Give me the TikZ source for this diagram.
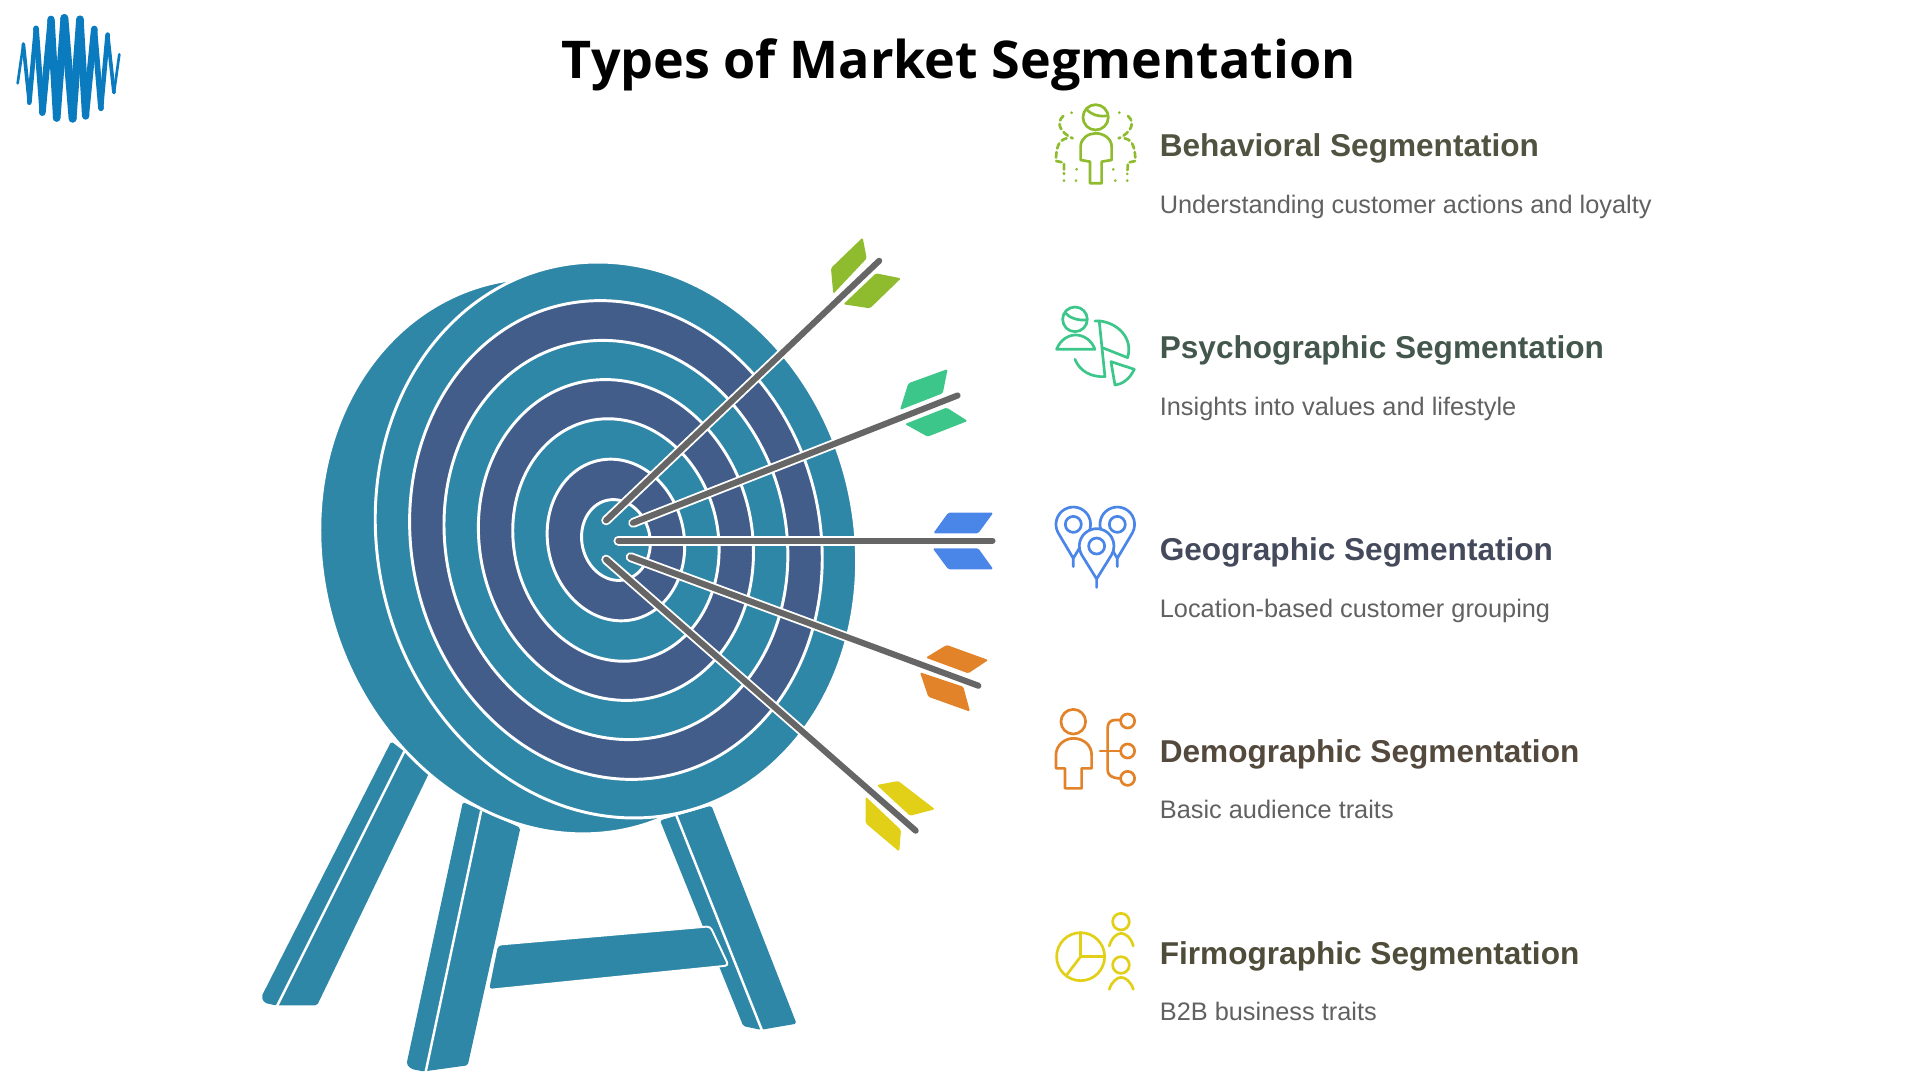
\documentclass[tikz,border=0pt]{standalone}
\usepackage{fontspec}
\setmainfont{Liberation Sans}
\newfontfamily\titlefont{Open Sans}
\definecolor{teal}{HTML}{2F87A8}
\definecolor{navy}{HTML}{425D8A}
\definecolor{shaft}{HTML}{666666}
\definecolor{lime}{HTML}{8FBC2E}
\definecolor{mint}{HTML}{3CC68A}
\definecolor{skyb}{HTML}{4A86E8}
\definecolor{oran}{HTML}{E2832A}
\definecolor{yell}{HTML}{E2CF17}
\definecolor{logob}{HTML}{0B7BBF}
\definecolor{hA}{HTML}{4F5340}
\definecolor{hB}{HTML}{43574D}
\definecolor{hC}{HTML}{444A5C}
\definecolor{hD}{HTML}{54493D}
\definecolor{hE}{HTML}{4F4D3A}
\tikzset{
  ringA/.style={fill=teal,draw=white,line width=2.4pt},
  ringB/.style={fill=navy,draw=white,line width=2.4pt},
  leg/.style={fill=teal,draw=none,rounded corners=1.5pt},
  legline/.style={draw=white,line width=2pt},
  fletch/.style={fill=#1,draw=none,rounded corners=1.2pt},
  halo/.style={draw=white,line width=8pt,line cap=round},
  shaftline/.style={draw=shaft,line width=5pt,line cap=round},
  ic/.style={draw=#1,line width=2.2pt,line join=round,line cap=round,fill=none},
  head/.style={anchor=base west,inner sep=0pt,font=\bfseries\fontsize{25.8}{30}\selectfont},
  sub/.style={anchor=base west,inner sep=0pt,text=black!62,font=\fontsize{20.7}{25}\selectfont},
  iconbox/.style={shift={(849.3,#1)},x=0.2722pt,y=-0.2722pt},
  wave/.style={draw=logob,line cap=round,line join=round}
}
\begin{document}
\begin{tikzpicture}[x=1pt,y=-1pt]
\useasboundingbox (0,0) rectangle (1568,882);
% logo
\begin{scope}[x=0.2722pt,y=-0.2722pt]
\foreach \ax/\ay/\bx/\by/\w in {53/250/70/132/8,70/132/88/308/11,88/308/108/85/14,108/85/127/338/17,127/338/153/58/20,153/58/170/354/22,170/354/193/54/23,193/54/218/356/24,218/356/240/58/23,240/58/257/348/22,257/348/283/87/20,283/87/303/325/17,303/325/323/104/14,323/104/342/278/11,342/278/358/163/8}
  \draw[wave,line width=\w*0.2722pt] (\ax,\ay) -- (\bx,\by);
\end{scope}
% title
\node[anchor=base,inner sep=0pt,font=\titlefont\bfseries\fontsize{42.5}{48}\selectfont] (title) at (783,64.5) {Types of Market Segmentation};
% legs
\path[leg] (319.5,605.5) -- (213.5,814) -- (216,819) -- (225,821) -- (259,821) -- (351,630) -- cycle;
\draw[legline] (331,612) -- (226,822);
\path[leg] (378,655) -- (332,869) -- (336,873) -- (346,875) -- (382,870) -- (425,676) -- cycle;
\draw[legline] (393,662) -- (347.5,876);
\path[leg] (539,670) -- (607,838) -- (621.5,841) -- (650.5,836) -- (581,658) -- cycle;
\draw[legline] (552,665) -- (622.5,842);
\path[leg,draw=white,line width=1.6pt,rounded corners=3pt] (406,771.5) -- (580,756.5) -- (595,788.5) -- (398.5,808.5) -- cycle;
% target
\begin{scope}[shift={(458,454)},xslant=-0.08]
\draw[ringA] (0,0) ellipse [x radius=196,y radius=227];
\end{scope}
\begin{scope}[shift={(503,441)},xslant=-0.065]
\draw[ringA] (0,0) ellipse [x radius=196,y radius=227];
\draw[ringB] (0,0) ellipse [x radius=168,y radius=195.5];
\draw[ringA] (0,0) ellipse [x radius=140,y radius=163];
\draw[ringB] (0,0) ellipse [x radius=112,y radius=131];
\draw[ringA] (0,0) ellipse [x radius=84,y radius=99];
\draw[ringB] (0,0) ellipse [x radius=56,y radius=66];
\draw[ringA] (0,0) ellipse [x radius=28,y radius=33];
\end{scope}
% arrows: named ends
\coordinate (t1) at (495,425); \coordinate (e1) at (718,213);
\coordinate (t2) at (517,427); \coordinate (e2) at (782,323);
\coordinate (t3) at (505,441.5); \coordinate (e3) at (810.5,441.5);
\coordinate (t4) at (515,455); \coordinate (e4) at (799,560);
\coordinate (t5) at (495,457); \coordinate (e5) at (747.8,678.4);
\path[fletch=lime] (704.5,194) -- (707.8,211) -- (680.5,240) -- (678.6,219) -- cycle;
\path[fletch=lime] (735.8,227.3) -- (710.5,251.8) -- (688.7,248.5) -- (715.4,223.2) -- cycle;
\path[fletch=mint] (773.9,301.4) -- (769.9,321.2) -- (735,334.8) -- (741.8,313) -- cycle;
\path[fletch=mint] (790.3,343.8) -- (757.6,356.6) -- (739,346.3) -- (773.1,332.9) -- cycle;
\path[fletch=skyb] (811.2,418.7) -- (798.9,435.5) -- (762.2,435.5) -- (774.4,418.7) -- cycle;
\path[fletch=skyb] (811.2,464.9) -- (798.9,447.8) -- (761.7,447.8) -- (774.4,464.9) -- cycle;
\path[fletch=oran] (773.1,526.7) -- (807.1,539) -- (790.8,549.9) -- (756,537.1) -- cycle;
\path[fletch=oran] (751.3,549) -- (786.7,560.8) -- (792.2,581.2) -- (758.1,569) -- cycle;
\path[fletch=yell] (733.6,637.8) -- (763.6,660.9) -- (743.2,666.2) -- (716,641.1) -- cycle;
\path[fletch=yell] (707,650.6) -- (735.8,677.8) -- (734.4,695.5) -- (707,672.4) -- cycle;
\foreach \n in {1,...,5}{
  \draw[halo] (t\n) -- (e\n);
  \draw[shaftline] (t\n) -- (e\n);
}
% behavioral icon
\begin{scope}[iconbox=73.5]
\draw[ic=lime] (167,82) circle [radius=38];
\draw[ic=lime] (140,58) .. controls (155,75) and (175,80) .. (198,78);
\draw[ic=lime] (150,280) -- (150,215) -- (122,210) -- (122,170) .. controls (122,145) and (145,130) .. (167,130) .. controls (190,130) and (215,145) .. (215,170) -- (215,210) -- (185,215) -- (185,280) -- cycle;
\draw[ic=lime,dash pattern=on 4.5pt off 3pt] (70,78) .. controls (50,95) and (55,125) .. (98,145);
\draw[ic=lime,dash pattern=on 4.5pt off 3pt] (80,145) .. controls (55,150) and (48,175) .. (48,213) -- (72,218) -- (72,252);
\draw[ic=lime,dash pattern=on 4.5pt off 3pt] (264,78) .. controls (284,95) and (279,125) .. (236,145);
\draw[ic=lime,dash pattern=on 4.5pt off 3pt] (254,145) .. controls (279,150) and (286,175) .. (286,213) -- (264,218) -- (262,252);
\foreach \px/\py in {95/68,238/68,110/238,220/238,72/272,108/272,226/272,262/272}
  \fill[lime] (\px,\py) circle [radius=4.5];
% psychographic icon
\draw[ic=mint] (105,688) circle [radius=37];
\draw[ic=mint] (75,668) .. controls (90,685) and (115,692) .. (140,690);
\draw[ic=mint] (50,778) .. controls (60,750) and (85,735) .. (107,735) .. controls (130,735) and (155,750) .. (165,778) -- cycle;
\draw[ic=mint] (165,693) -- (180,693) .. controls (235,700) and (280,745) .. (263,803) -- (187,773);
\draw[ic=mint] (178,695) -- (195,860) .. controls (155,862) and (120,845) .. (105,808);
\draw[ic=mint] (213,815) -- (283,838) .. controls (270,865) and (250,882) .. (225,885) -- cycle;
\end{scope}
% geographic icon
\begin{scope}[iconbox=400.2]
\foreach \cx/\cy/\tip in {100/103/230,232/103/230,170/168/292}{
  \draw[ic=skyb,fill=white] (\cx-45,\cy+26) arc [start angle=150,end angle=390,radius=52] -- (\cx+3,\tip-30) -- (\cx,\tip-25) -- (\cx,\tip) -- (\cx,\tip-25) -- (\cx-3,\tip-30) -- cycle;
  \draw[ic=skyb] (\cx,\cy) circle [radius=24];
}
% demographic icon
\draw[ic=oran] (100,695) circle [radius=37];
\draw[ic=oran] (75,895) -- (75,835) -- (48,835) -- (48,795) .. controls (48,765) and (75,745) .. (100,745) .. controls (130,745) and (155,765) .. (155,795) -- (155,835) -- (125,835) -- (125,895) -- cycle;
\draw[ic=oran] (263,693) circle [radius=21];
\draw[ic=oran] (263,783) circle [radius=21];
\draw[ic=oran] (263,865) circle [radius=21];
\draw[ic=oran] (180,783) -- (242,783);
\draw[ic=oran] (242,690) -- (225,690) .. controls (210,690) and (203,700) .. (203,715) -- (203,840) .. controls (203,855) and (215,865) .. (242,865);
\end{scope}
% firmographic icon
\begin{scope}[iconbox=735]
\draw[ic=yell] (122,170) circle [radius=72];
\draw[ic=yell] (122,98) -- (122,170) -- (194,170);
\draw[ic=yell] (122,170) -- (80,225);
\draw[ic=yell] (243,65) circle [radius=25];
\draw[ic=yell] (208,138) .. controls (215,112) and (232,100) .. (243,100) .. controls (256,100) and (273,112) .. (280,138);
\draw[ic=yell] (243,195) circle [radius=25];
\draw[ic=yell] (208,268) .. controls (215,245) and (232,232) .. (243,232) .. controls (256,232) and (273,245) .. (280,268);
\end{scope}
% labels
\node[head,text=hA] (h1) at (947,127.5) {Behavioral Segmentation};
\node[sub] (s1) at (947,174.5) {Understanding customer actions and loyalty};
\node[head,text=hB] (h2) at (947,292.5) {Psychographic Segmentation};
\node[sub] (s2) at (947,339.5) {Insights into values and lifestyle};
\node[head,text=hC] (h3) at (947,457.5) {Geographic Segmentation};
\node[sub] (s3) at (947,504.5) {Location-based customer grouping};
\node[head,text=hD] (h4) at (947,622.5) {Demographic Segmentation};
\node[sub] (s4) at (947,668.5) {Basic audience traits};
\node[head,text=hE] (h5) at (947,787.5) {Firmographic Segmentation};
\node[sub] (s5) at (947,833.5) {B2B business traits};
\end{tikzpicture}
\end{document}
